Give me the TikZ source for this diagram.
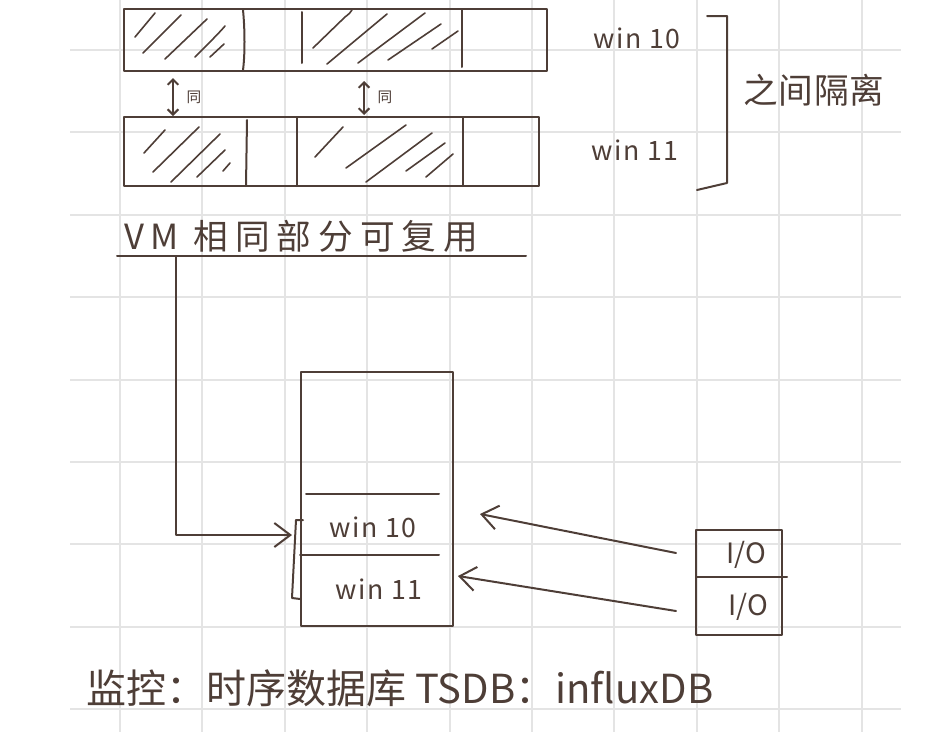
\documentclass[tikz,border=0pt]{standalone}
\usepackage{fontspec}
\setmainfont{Noto Sans CJK SC}
\usetikzlibrary{arrows.meta}

\definecolor{ink}{RGB}{78,62,55}
\definecolor{gridgray}{RGB}{228,228,228}

\tikzset{
  gridline/.style={draw=gridgray, line width=1.5pt},
  pen/.style={draw=ink, line width=1.5pt, line cap=round, line join=round},
  hatch/.style={draw=ink, line width=1.2pt, line cap=round},
  twoway/.style={{Straight Barb[length=4pt,width=8pt]}-{Straight Barb[length=4pt,width=8pt]}},
  bigarrow/.style={-{Straight Barb[length=12pt,width=18pt]}},
  hand/.style={text=ink, inner sep=0.75pt},
  winlabel/.style={hand, font=\fontsize{20}{23}\selectfont\addfontfeatures{LetterSpace=6}},
  title/.style={hand, font=\fontsize{26}{30}\selectfont\addfontfeatures{LetterSpace=20}},
}

\begin{document}
\begin{tikzpicture}[x=0.75pt,y=0.75pt,yscale=-1,xscale=1]
\path[use as bounding box] (0,0) rectangle (932,732);

% grid paper
\foreach \gx in {0,...,9}
  \draw[gridline] ({120+82.4*\gx},0) -- ({120+82.4*\gx},732);
\foreach \gy in {0,...,8}
  \draw[gridline] (70,{50+82.4*\gy}) -- (901,{50+82.4*\gy});

%Shape: Rectangle [win 10 row]
\draw[pen] (124,9) rectangle (547,71);
\draw[pen] (243,10) .. controls (245,30) and (245,55) .. (243,70);
\draw[pen] (302,12) -- (302,63);
\draw[pen] (462,9) -- (462,67);
% hatching
\draw[hatch] (135,37) -- (155,13) (143,53) -- (181,15) (165,59) -- (207,19)
  (195,57) .. controls (210,42) and (220,32) .. (225,26) (210,57) -- (224,44);
\draw[hatch] (313,48) -- (345,17) .. controls (349,14) and (351,12) .. (352,10)
  (327,64) -- (387,14) (358,63) -- (425,13) (388,60) -- (441,24) (432,49) -- (458,31);

%Shape: Rectangle [win 11 row]
\draw[pen] (124,117) rectangle (539,186);
\draw[pen] (247,120) -- (246,186);
\draw[pen] (297,117) -- (297,186);
\draw[pen] (463,117) -- (463,186);
% hatching
\draw[hatch] (144,153) -- (165,130) (153,172) -- (199,127) (171,182) -- (220,134)
  (197,177) -- (225,150) (223,171) -- (230,163);
\draw[hatch] (315,157) -- (343,127) (346,168) -- (406,125) (366,182) -- (432,133)
  (406,171) -- (445,143) (426,177) -- (453,154);

% same parts
\coordinate (sameLtop) at (173,78);
\coordinate (sameLbot) at (173,116);
\coordinate (sameRtop) at (364,81);
\coordinate (sameRbot) at (364,115);
\draw[pen, twoway] (sameLtop) -- (sameLbot);
\draw[pen, twoway] (sameRtop) -- (sameRbot);
\node[hand, font=\fontsize{11}{13}\selectfont] (sameLlabel) at (194,97) {同};
\node[hand, font=\fontsize{11}{13}\selectfont] (sameRlabel) at (385,97) {同};

% Text Node
\node[winlabel] (rowTen) at (637,38) {win 10};
\node[winlabel] (rowEleven) at (635,150) {win 11};

% bracket
\draw[pen] (707,16) -- (727,16) -- (727,183) -- (697,190);
\node[hand, font=\fontsize{26}{30}\selectfont\addfontfeatures{LetterSpace=2}] (isolate) at (814,90) {之间隔离};

% reuse line
\node[title] (reuse) at (301,236) {VM 相同部分可复用};
\draw[pen] (117,256) -- (526,256);
\coordinate (vmTap) at (176,256);
\coordinate (bracketIn) at (292,535);
\draw[pen, bigarrow] (vmTap) |- (bracketIn);

%Shape: Rectangle [memory]
\draw[pen] (301,372) rectangle (453,626);
\draw[pen] (306,494) -- (439,494);
\draw[pen] (300,555) -- (439,555);
\node[winlabel] (memTen) at (373,527) {win 10};
\node[winlabel] (memEleven) at (379,589) {win 11};
\draw[pen] (303,520) -- (296,520) -- (292,598) -- (300,599);

%Shape: Rectangle [I/O]
\draw[pen] (696,530) rectangle (782,635);
\draw[pen] (696,577) -- (787,577);
\node[hand, font=\fontsize{21}{24}\selectfont] (ioOne) at (746,555) {I/O};
\node[hand, font=\fontsize{21}{24}\selectfont] (ioTwo) at (748,607) {I/O};
\coordinate (ioTop) at (676,553);
\coordinate (ioBot) at (676,611);
\coordinate (memTenIn) at (480,514);
\coordinate (memElevenIn) at (458,576);
\draw[pen, bigarrow] (ioTop) -- (memTenIn);
\draw[pen, bigarrow] (ioBot) -- (memElevenIn);

% Text Node
\node[hand, font=\fontsize{30}{34}\selectfont] (monitor) at (400,688) {监控：时序数据库 TSDB：influxDB};

\end{tikzpicture}
\end{document}
